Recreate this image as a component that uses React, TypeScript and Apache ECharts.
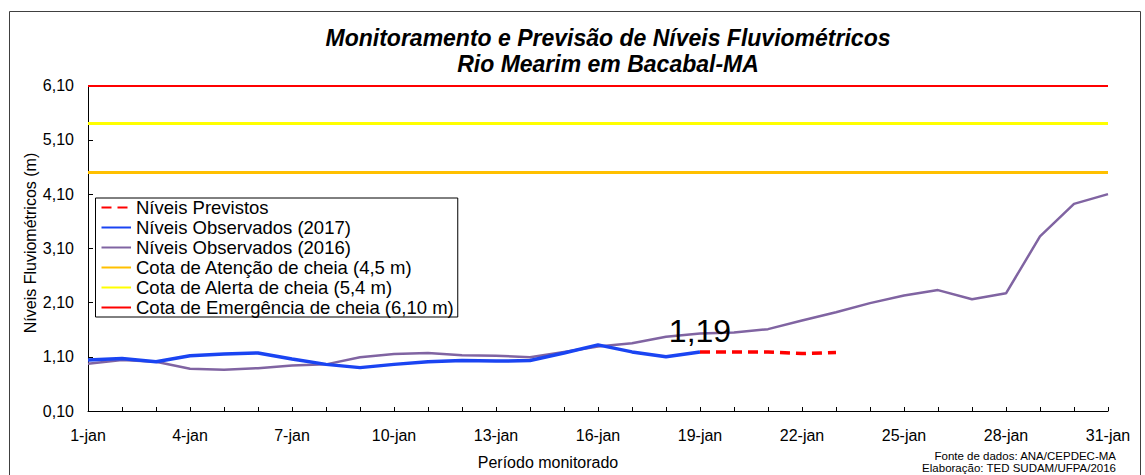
import React, { useEffect, useRef } from "react";
import * as echarts from "echarts";

const days: string[] = [
  "1-jan","2-jan","3-jan","4-jan","5-jan","6-jan","7-jan","8-jan","9-jan","10-jan",
  "11-jan","12-jan","13-jan","14-jan","15-jan","16-jan","17-jan","18-jan","19-jan","20-jan",
  "21-jan","22-jan","23-jan","24-jan","25-jan","26-jan","27-jan","28-jan","29-jan","30-jan","31-jan",
];

const observados2017: (number | null)[] = [
  1.04, 1.07, 1.01, 1.12, 1.15, 1.17, 1.06, 0.96, 0.90, 0.96,
  1.01, 1.03, 1.02, 1.03, 1.17, 1.32, 1.19, 1.10, 1.19,
];

const observados2016: number[] = [
  0.97, 1.04, 1.01, 0.88, 0.86, 0.89, 0.94, 0.96, 1.09, 1.15,
  1.17, 1.13, 1.12, 1.09, 1.19, 1.29, 1.35, 1.47, 1.53, 1.55,
  1.61, 1.77, 1.92, 2.09, 2.23, 2.33, 2.16, 2.27, 3.32, 3.92, 4.10,
];

// forecast starts at 19-jan
const previstosInicio = 18;
const previstos: number[] = [1.19, 1.19, 1.19, 1.16, 1.18];

const COTA_ATENCAO = 4.5;
const COTA_ALERTA = 5.4;
const COTA_EMERGENCIA = 6.1;

const Y_MIN = 0.1;
const Y_MAX = 6.1;
const Y_STEP = 1;

const FONT = "Arial, 'Liberation Sans', sans-serif";

const fmt = (v: number) => v.toFixed(2).replace(".", ",");

export default function App() {
  const ref = useRef<HTMLDivElement>(null);

  useEffect(() => {
    if (!ref.current) return;
    const chart = echarts.init(ref.current, undefined, { renderer: "svg" });

    const prevData: (number | null)[] = days.map(() => null);
    previstos.forEach((v, i) => (prevData[previstosInicio + i] = v));

    const thresholdSeries = (name: string, value: number, color: string, width: number) => ({
      name,
      type: "line",
      data: [],
      symbol: "none",
      color,
      lineStyle: { color, width },
      markLine: {
        silent: true,
        symbol: "none",
        label: { show: false },
        lineStyle: { color, width, type: "solid" },
        data: [{ yAxis: value }],
      },
    });

    chart.setOption({
      animation: false,
      backgroundColor: "#ffffff",
      textStyle: { fontFamily: FONT },
      grid: { left: 88, right: 37, top: 85.7, bottom: 64, containLabel: false },
      graphic: [
        {
          type: "rect",
          shape: { x: 9.5, y: 11.5, width: 1131, height: 480 },
          style: { fill: "none", stroke: "#404040", lineWidth: 1 },
          silent: true,
        },
        {
          type: "text",
          x: 608,
          y: 38,
          style: {
            text: "Monitoramento e Previsão de Níveis Fluviométricos",
            font: `italic bold 23px ${FONT}`,
            fill: "#000",
            textAlign: "center",
            textVerticalAlign: "middle",
          },
        },
        {
          type: "text",
          x: 608,
          y: 64,
          style: {
            text: "Rio Mearim em Bacabal-MA",
            font: `italic bold 23px ${FONT}`,
            fill: "#000",
            textAlign: "center",
            textVerticalAlign: "middle",
          },
        },
        {
          type: "text",
          x: 30,
          y: 243,
          rotation: Math.PI / 2,
          style: {
            text: "Níveis Fluviométricos (m)",
            font: `16px ${FONT}`,
            fill: "#000",
            textAlign: "center",
            textVerticalAlign: "middle",
          },
        },
        {
          type: "text",
          x: 548,
          y: 462,
          style: {
            text: "Período monitorado",
            font: `16px ${FONT}`,
            fill: "#000",
            textAlign: "center",
            textVerticalAlign: "middle",
          },
        },
        {
          type: "text",
          x: 1116,
          y: 456,
          style: {
            text: "Fonte de dados: ANA/CEPDEC-MA",
            font: `11.5px ${FONT}`,
            fill: "#000",
            textAlign: "right",
            textVerticalAlign: "middle",
          },
        },
        {
          type: "text",
          x: 1116,
          y: 467.5,
          style: {
            text: "Elaboração: TED SUDAM/UFPA/2016",
            font: `11.5px ${FONT}`,
            fill: "#000",
            textAlign: "right",
            textVerticalAlign: "middle",
          },
        },
      ],
      legend: {
        orient: "vertical",
        left: 95.5,
        top: 198,
        itemWidth: 29.5,
        itemHeight: 14,
        itemGap: 1,
        padding: [0, 4, 0, 5],
        borderColor: "#000",
        borderWidth: 1,
        backgroundColor: "#fff",
        itemStyle: { opacity: 0, color: "rgba(0,0,0,0)", borderWidth: 0 },
        textStyle: { fontSize: 18.5, color: "#000", fontFamily: FONT },
        data: [
          "Níveis Previstos",
          "Níveis Observados (2017)",
          "Níveis Observados (2016)",
          "Cota de Atenção de cheia (4,5 m)",
          "Cota de Alerta de cheia (5,4 m)",
          "Cota de Emergência de cheia (6,10 m)",
        ],
      },
      xAxis: {
        type: "category",
        data: days,
        boundaryGap: false,
        axisLine: { lineStyle: { color: "#000", width: 1 } },
        axisTick: { inside: true, length: 4, interval: 0, lineStyle: { color: "#000" } },
        axisLabel: { interval: 2, fontSize: 16, color: "#000", margin: 16, fontFamily: FONT },
        splitLine: { show: false },
      },
      yAxis: {
        type: "value",
        min: Y_MIN,
        max: Y_MAX,
        interval: Y_STEP,
        axisLine: { show: true, lineStyle: { color: "#000", width: 1 } },
        axisTick: { show: true, inside: true, length: 5, lineStyle: { color: "#000" } },
        axisLabel: { fontSize: 16, color: "#000", margin: 14, fontFamily: FONT, formatter: (v: number) => fmt(v) },
        splitLine: { show: false },
      },
      series: [
        thresholdSeries("Cota de Atenção de cheia (4,5 m)", COTA_ATENCAO, "#FFC000", 3),
        thresholdSeries("Cota de Alerta de cheia (5,4 m)", COTA_ALERTA, "#FFFF00", 3),
        thresholdSeries("Cota de Emergência de cheia (6,10 m)", COTA_EMERGENCIA, "#FF0000", 2),
        {
          name: "Níveis Observados (2016)",
          type: "line",
          data: observados2016,
          symbol: "none",
          color: "#8064A2",
          lineStyle: { color: "#8064A2", width: 2.5 },
          z: 3,
        },
        {
          name: "Níveis Observados (2017)",
          type: "line",
          data: observados2017,
          symbol: "none",
          color: "#1A44F2",
          lineStyle: { color: "#1A44F2", width: 3.5 },
          z: 4,
        },
        {
          name: "Níveis Previstos",
          type: "line",
          data: prevData,
          symbol: "none",
          color: "#FF0000",
          lineStyle: { color: "#FF0000", width: 3.5, type: [10, 6] },
          z: 5,
          markPoint: {
            silent: true,
            symbol: "circle",
            symbolSize: 1,
            itemStyle: { color: "rgba(0,0,0,0)" },
            label: {
              show: true,
              position: "top",
              distance: 4,
              fontSize: 32,
              color: "#000",
              fontFamily: FONT,
              formatter: (p: any) => fmt(p.value),
            },
            data: [
              {
                coord: [previstosInicio, previstos[0]],
                value: previstos[0],
              },
            ],
          },
        },
      ],
    });

    return () => chart.dispose();
  }, []);

  return (
    <div
      ref={ref}
      style={{ position: "absolute", left: 0, top: 0, width: 1145, height: 475 }}
    />
  );
}
